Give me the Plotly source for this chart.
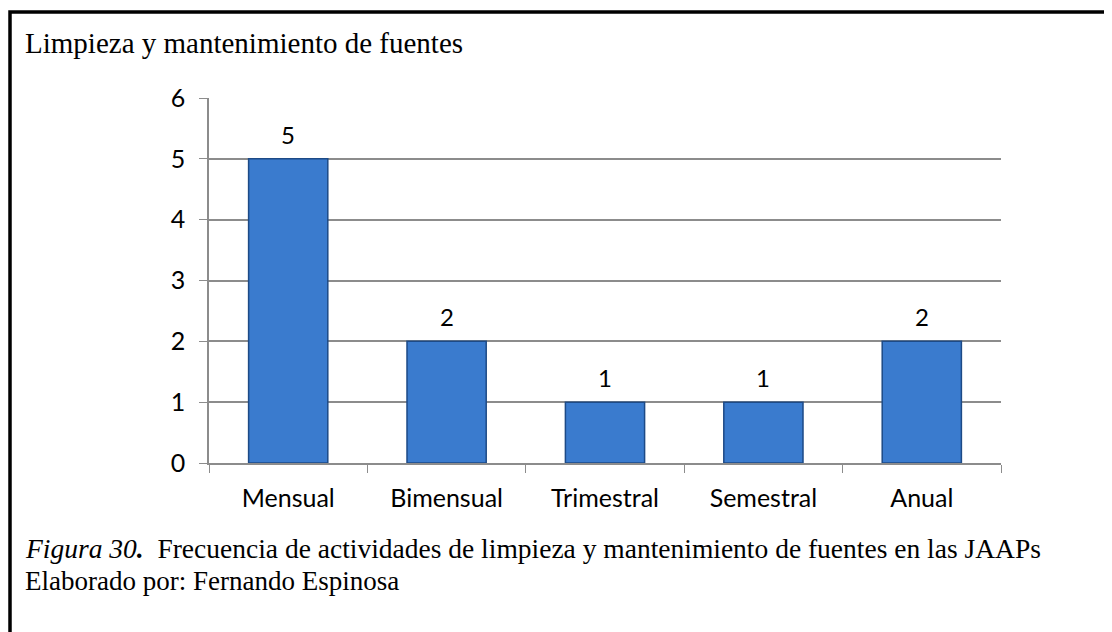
import plotly.graph_objects as go

categories = ["Mensual", "Bimensual", "Trimestral", "Semestral", "Anual"]
values = [5, 2, 1, 1, 2]
y_ticks = [0, 1, 2, 3, 4, 5, 6]

title_text = "Limpieza y mantenimiento de fuentes"
caption_label = "Figura 30"
caption_text = "Frecuencia de actividades de limpieza y mantenimiento de fuentes en las JAAPs"
author_text = "Elaborado por: Fernando Espinosa"

W, H = 1112, 632
L, R, T, B = 201, 119, 90, 177
pw, ph = W - L - R, H - T - B


def px_x(px):
    return (px - L) / pw


def px_y(py):
    return (H - B - py) / ph


fig = go.Figure()

fig.add_trace(
    go.Bar(
        x=categories,
        y=values,
        width=0.5,
        marker=dict(color="#3A7BCE", line=dict(color="#1D4A86", width=1.5)),
        hoverinfo="skip",
    )
)

# data labels above the bars
for cat, val in zip(categories, values):
    fig.add_annotation(
        x=cat, y=val, text=str(val), showarrow=False,
        yanchor="bottom", yshift=8,
        font=dict(family="Lato", size=24, color="#000000"),
    )

# chart title
fig.add_annotation(
    xref="paper", yref="paper", x=px_x(15), y=px_y(35.5),
    xanchor="left", yanchor="middle", showarrow=False,
    text=title_text,
    font=dict(family="Liberation Serif", size=29, color="#000000"),
)

# figure caption
fig.add_annotation(
    xref="paper", yref="paper", x=px_x(15), y=px_y(540),
    xanchor="left", yanchor="middle", showarrow=False,
    text=f"<i>{caption_label}</i><b><i>.</i></b>&nbsp;&nbsp;{caption_text}",
    font=dict(family="Liberation Serif", size=27.5, color="#000000"),
)
fig.add_annotation(
    xref="paper", yref="paper", x=px_x(15), y=px_y(573),
    xanchor="left", yanchor="middle", showarrow=False,
    text=author_text,
    font=dict(family="Liberation Serif", size=27, color="#000000"),
)

# page border (left and top visible)
fig.add_shape(
    type="rect", xref="paper", yref="paper",
    x0=px_x(2), x1=px_x(1140), y0=px_y(660), y1=px_y(4),
    line=dict(color="#000000", width=3.5), layer="above",
)

fig.update_layout(
    width=W, height=H,
    margin=dict(l=L, r=R, t=T, b=B),
    paper_bgcolor="white", plot_bgcolor="white",
    showlegend=False,
    bargap=0.5,
)

fig.update_xaxes(
    showline=True, linecolor="#8C8C8C", linewidth=1.5,
    ticks="outside", tickson="boundaries", ticklen=8, tickcolor="#8C8C8C",
    tickfont=dict(family="Lato", size=25, color="#000000"),
    ticklabelstandoff=12,
    showgrid=False,
)
fig.update_yaxes(
    range=[0, 6], tickvals=y_ticks,
    showline=True, linecolor="#8C8C8C", linewidth=1.5,
    ticks="outside", ticklen=8, tickcolor="#8C8C8C",
    ticklabelstandoff=9,
    showgrid=True, gridcolor="#8C8C8C", gridwidth=1.5,
    zeroline=False,
    tickfont=dict(family="Lato", size=25, color="#000000"),
)

fig.write_html("out.html")
